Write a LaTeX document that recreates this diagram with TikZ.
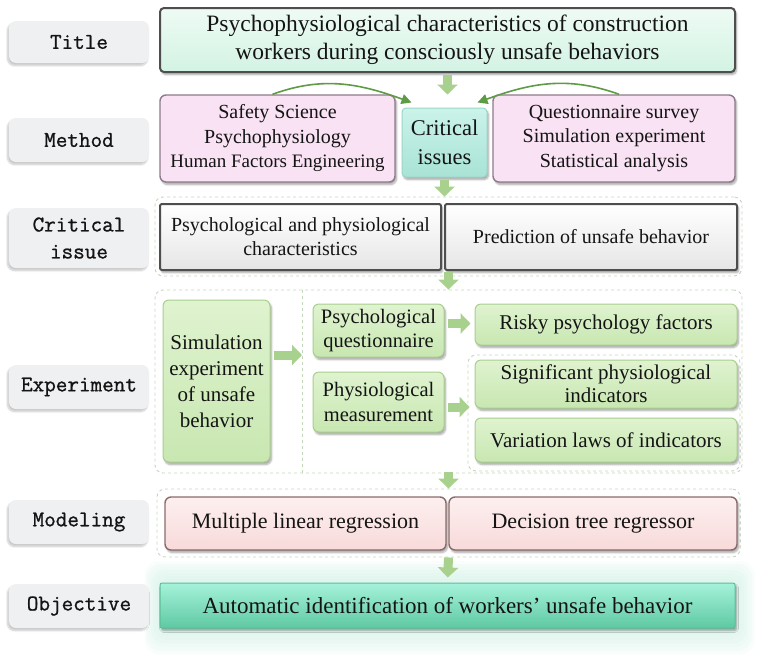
\documentclass[tikz,border=0pt]{standalone}
\usepackage{fontspec}
\setmainfont{Liberation Serif}
\newfontfamily\labelfont{Latin Modern Mono}[FakeBold=1.0]
\usetikzlibrary{arrows.meta,shadows.blur,calc}
\newcommand\fsz[2]{\fontsize{#1}{#2}\selectfont}
\definecolor{labelgray}{HTML}{EEF0F2}
\definecolor{titletop}{HTML}{EEFBF4}
\definecolor{titlebot}{HTML}{D3F3E4}
\definecolor{pinkfill}{HTML}{F8E2F4}
\definecolor{pinkdraw}{HTML}{8E7A8A}
\definecolor{crittop}{HTML}{CBF3EA}
\definecolor{critbot}{HTML}{A8E3D6}
\definecolor{critdraw}{HTML}{9CD6C8}
\definecolor{greentop}{HTML}{DFF3CF}
\definecolor{greenbot}{HTML}{C8E7B1}
\definecolor{greendraw}{HTML}{A9CF8E}
\definecolor{arrowgreen}{HTML}{A9D18E}
\definecolor{curvegreen}{HTML}{5E9B45}
\definecolor{dashgreen}{HTML}{C3D6BA}
\definecolor{modtop}{HTML}{FDEFEF}
\definecolor{modbot}{HTML}{F8DADA}
\definecolor{moddraw}{HTML}{8A6B6B}
\definecolor{objtop}{HTML}{A6F2DA}
\definecolor{objbot}{HTML}{5EC9A3}
\definecolor{objdraw}{HTML}{5BBF98}
\definecolor{glow}{HTML}{CDEFE4}
\definecolor{darkline}{HTML}{4E4E4E}
\definecolor{textblack}{HTML}{141414}
\begin{document}
\begin{tikzpicture}[x=1pt,y=-1pt, text=textblack,
  softshadow/.style={blur shadow={shadow xshift=1.5pt, shadow yshift=-2.5pt, shadow opacity=35, shadow blur steps=6}},
  labelbox/.style={rounded corners=7pt, fill=labelgray, minimum width=140pt, minimum height=42pt, inner sep=0pt,
    font=\labelfont\fsz{22.5}{27}, align=center,
    blur shadow={shadow xshift=-1.5pt, shadow yshift=-2.5pt, shadow opacity=22, shadow blur steps=6}},
  titlebox/.style={rounded corners=4pt, top color=titletop, bottom color=titlebot, draw=darkline, line width=2pt,
    font=\fsz{23.5}{27.5}, align=center, inner sep=0pt, softshadow},
  methbox/.style={rounded corners=6pt, fill=pinkfill, draw=pinkdraw, line width=1.4pt, align=center, inner sep=0pt,
    font=\fsz{20}{24.5}, softshadow},
  critbox/.style={rounded corners=4pt, top color=crittop, bottom color=critbot, draw=critdraw, line width=1pt,
    align=center, inner sep=0pt, font=\fsz{22.5}{29}, softshadow},
  cibox/.style={rounded corners=2pt, top color=white, bottom color=black!10, draw=darkline, line width=2pt,
    align=center, inner sep=0pt, font=\fsz{20}{24}, softshadow},
  greenbox/.style={rounded corners=6pt, top color=greentop, bottom color=greenbot, draw=greendraw, line width=1pt,
    align=center, inner sep=0pt, font=\fsz{20.5}{24.5}, softshadow},
  modbox/.style={rounded corners=6pt, top color=modtop, bottom color=modbot, draw=moddraw, line width=1.4pt,
    align=center, inner sep=0pt, font=\fsz{22}{26}, softshadow},
  objbox/.style={rounded corners=2pt, top color=objtop, bottom color=objbot, draw=objdraw, line width=1pt,
    align=center, inner sep=0pt, font=\fsz{23}{27}, softshadow},
  dashbox/.style={rounded corners=8pt, draw=dashgreen, dashed, line width=0.9pt, inner sep=0pt},
  dashline/.style={draw=dashgreen, dashed, line width=0.9pt},
  flow/.style={draw=arrowgreen, line width=9pt, -{Triangle[width=20pt,length=10pt]}},
  curvearrow/.style={draw=curvegreen, line width=1.6pt, -{Triangle[width=10pt,length=10pt]}}
]
\useasboundingbox (0,0) rectangle (762,664);

% glow behind objective
\foreach \r in {22,19,...,1}{
  \fill[glow, opacity=0.13, rounded corners=14pt] (160-\r*0.7,583-\r) rectangle (735+\r*0.9,628+\r*1.2);
}

% dashed containers
\node[dashbox, minimum width=587pt, minimum height=79pt] (cirow) at (448.5,236.5) {};
\node[dashbox, minimum width=587pt, minimum height=183pt] (exp) at (448.5,381.5) {};
\node[dashbox, minimum width=272pt, minimum height=116pt] (physgrp) at (604,413) {};
\node[dashbox, minimum width=583pt, minimum height=68pt] (model) at (448.5,523) {};
\coordinate (split) at (302,355);
\draw[dashline] (exp.north -| split) -- (exp.south -| split);

% labels
\node[labelbox] (lt) at (79,42) {Title};
\node[labelbox, minimum height=44pt] (lm) at (79,140) {Method};
\node[labelbox, minimum height=60pt] (lc) at (79,238) {Critical\\issue};
\node[labelbox, minimum height=44pt] (le) at (79,387) {Experiment};
\node[labelbox, minimum height=44pt] (lmo) at (79,522) {Modeling};
\node[labelbox, minimum height=44pt] (lo) at (79,606) {Objective};

% title
\node[titlebox, minimum width=575pt, minimum height=64pt] (title) at (447.5,40)
  {Psychophysiological characteristics of construction\\workers during consciously unsafe behaviors};

% method row
\node[methbox, minimum width=235pt, minimum height=87pt] (ml) at (277.5,138.5)
  {Safety Science\\Psychophysiology\\{\fsz{19}{24.5}Human Factors Engineering}};
\node[critbox, minimum width=85pt, minimum height=69pt] (crit) at (444.5,142.5) {Critical\\issues};
\node[methbox, minimum width=242pt, minimum height=87pt] (mr) at (614,138.5)
  {Questionnaire survey\\Simulation experiment\\Statistical analysis};

% critical issue row
\node[cibox, minimum width=281pt, minimum height=66pt] (cil) at (300.5,237)
  {Psychological and physiological\\characteristics};
\node[cibox, minimum width=292pt, minimum height=66pt] (cir) at (591,237)
  {Prediction of unsafe behavior};

% experiment
\node[greenbox, minimum width=107pt, minimum height=162pt, font=\fsz{21}{26}] (sim) at (216.5,381)
  {Simulation\\experiment\\of unsafe\\behavior};
\node[greenbox, minimum width=131pt, minimum height=53pt] (pq) at (378.5,330.5)
  {Psychological\\questionnaire};
\node[greenbox, minimum width=262pt, minimum height=41pt, font=\fsz{21}{25}] (rpf) at (606,324.5)
  {Risky psychology factors};
\node[greenbox, minimum width=131pt, minimum height=60pt] (pm) at (378.5,402)
  {Physiological\\measurement};
\node[greenbox, minimum width=262pt, minimum height=48pt, font=\fsz{21}{23}] (spi) at (606,384)
  {Significant physiological\\indicators};
\node[greenbox, minimum width=262pt, minimum height=44pt, font=\fsz{21}{25}] (vl) at (606,440)
  {Variation laws of indicators};

% modeling
\node[modbox, minimum width=281pt, minimum height=53pt] (mlr) at (305.5,523.5) {Multiple linear regression};
\node[modbox, minimum width=288pt, minimum height=53pt] (dtr) at (593,523.5) {Decision tree regressor};

% objective
\node[objbox, minimum width=575pt, minimum height=45pt] (obj) at (447.5,605.5)
  {Automatic identification of workers’ unsafe behavior};

% arrows
\draw[flow, shorten <=2pt, shorten >=13pt] (title.south) -- (title.south |- crit.north);
\draw[flow, shorten <=2pt] (crit.south) -- (crit.south |- cirow.north);
\draw[flow, shorten <=-4pt] (cirow.south) -- (exp.north);
\draw[flow, shorten <=-1pt] (exp.south) -- (model.north);
\draw[flow, shorten >=5pt] (model.south) -- (obj.north);
\draw[flow, shorten <=3pt] ([yshift=26pt]sim.east) -- (split);
\draw[flow, shorten <=3pt, shorten >=4pt] ([yshift=7pt]pq.east) -- ([yshift=7pt]pq.east -| rpf.west);
\draw[flow, shorten <=3pt, shorten >=-2pt] ([yshift=-5pt]pm.east) -- ([yshift=-5pt]pm.east -| physgrp.west);

% curved arrows
\draw[curvearrow] ([xshift=-5pt]ml.north) to[out=20, in=160] ([xshift=10pt,yshift=5pt]crit.north west);
\draw[curvearrow] ([xshift=5pt]mr.north) to[out=160, in=20] ([xshift=-10pt,yshift=5pt]crit.north east);
\end{tikzpicture}
\end{document}
